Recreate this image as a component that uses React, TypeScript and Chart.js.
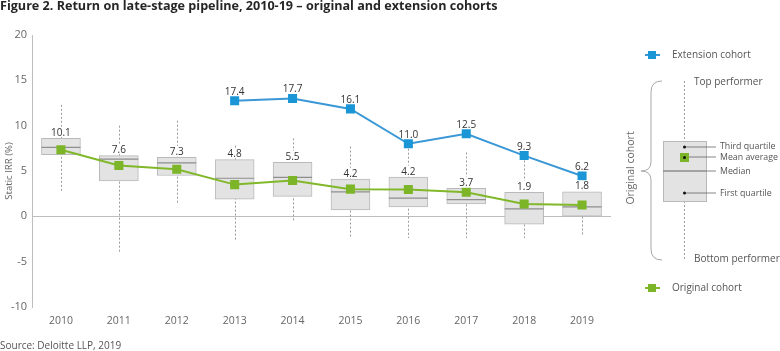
import React, { useEffect, useRef } from 'react';
import { Chart, registerables } from 'chart.js';

Chart.register(...registerables);

const years = ['2010', '2011', '2012', '2013', '2014', '2015', '2016', '2017', '2018', '2019'];
const whiskerHigh = [12.3, 10.0, 10.55, 7.8, 8.6, 7.7, 7.9, 7.05, 6.6, 4.4];
const thirdQuartile = [8.6, 6.7, 6.5, 6.25, 5.95, 4.1, 4.33, 3.1, 2.65, 2.7];
const medianValues = [7.6, 6.3, 5.9, 4.2, 4.3, 2.7, 2.0, 1.85, 0.82, 1.05];
const firstQuartile = [6.8, 3.9, 4.5, 1.9, 2.2, 0.7, 1.05, 1.37, -0.86, 0.02];
const whiskerLow = [2.7, -4.1, 1.3, -2.7, -0.6, -2.45, -2.4, -2.4, -2.4, -2.05];
const originalMean = [7.35, 5.6, 5.2, 3.5, 3.95, 3.0, 2.95, 2.65, 1.35, 1.25];
const extensionMean = [null, null, null, 12.75, 13.0, 11.85, 8.0, 9.1, 6.7, 4.45];
const originalLabels = ['10.1', '7.6', '7.3', '4.8', '5.5', '4.2', '4.2', '3.7', '1.9', '1.8'];
const extensionLabels = [null, null, null, '17.4', '17.7', '16.1', '11.0', '12.5', '9.3', '6.2'];
const yTicks = [-10, -5, 0, 5, 10, 15, 20];

const FONT = "'Open Sans', sans-serif";
const BLUE_LINE = '#3a98d6';
const BLUE_MARK = '#1a96d6';
const GREEN_LINE = '#80b82a';
const GREEN_MARK = '#7cb628';
const BOX_FILL = '#e3e3e3';
const BOX_BORDER = '#b9b9b9';

export default function App() {
  const ref = useRef<HTMLCanvasElement>(null);

  useEffect(() => {
    document.body.style.margin = '0';
    const canvas = ref.current;
    if (!canvas) return;

    const extras = {
      id: 'boxExtras',
      beforeDatasetsDraw(chart: any) {
        const { ctx, scales } = chart;
        const x = scales.x;
        const y = scales.y;
        ctx.save();
        ctx.strokeStyle = '#9c9c9c';
        ctx.lineWidth = 1;
        ctx.setLineDash([2, 2]);
        years.forEach((_, i) => {
          const px = Math.round(x.getPixelForValue(i)) + 0.5;
          ctx.beginPath();
          ctx.moveTo(px, y.getPixelForValue(whiskerHigh[i]));
          ctx.lineTo(px, y.getPixelForValue(whiskerLow[i]));
          ctx.stroke();
        });
        ctx.restore();
      },
      afterDatasetDraw(chart: any, args: any) {
        if (args.index !== 0) return;
        const { ctx, scales } = chart;
        const y = scales.y;
        const meta = chart.getDatasetMeta(0);
        ctx.save();
        ctx.strokeStyle = '#8e8e8e';
        ctx.lineWidth = 1.2;
        meta.data.forEach((bar: any, i: number) => {
          const p = bar.getProps(['x', 'width'], true);
          const py = y.getPixelForValue(medianValues[i]);
          ctx.beginPath();
          ctx.moveTo(p.x - p.width / 2, py);
          ctx.lineTo(p.x + p.width / 2, py);
          ctx.stroke();
        });
        ctx.restore();
      },
      afterDatasetsDraw(chart: any) {
        const { ctx, scales } = chart;
        const x = scales.x;
        const y = scales.y;
        ctx.save();
        ctx.font = `10px ${FONT}`;
        ctx.textAlign = 'center';
        ctx.textBaseline = 'alphabetic';
        years.forEach((_, i) => {
          const px = x.getPixelForValue(i);
          const by = y.getPixelForValue(thirdQuartile[i]) - 2.5;
          const t = originalLabels[i];
          const w = ctx.measureText(t).width;
          ctx.fillStyle = '#ffffff';
          ctx.fillRect(px - w / 2 - 1, by - 9, w + 2, 10);
          ctx.fillStyle = '#333333';
          ctx.fillText(t, px, by);
          const et = extensionLabels[i];
          const ev = extensionMean[i];
          if (et && ev !== null) {
            ctx.fillText(et, px, y.getPixelForValue(ev) - 6);
          }
        });
        ctx.restore();
      },
      afterDraw(chart: any) {
        const { ctx, chartArea } = chart;
        ctx.save();
        // title
        ctx.fillStyle = '#262626';
        ctx.font = `bold 12.6px ${FONT}`;
        ctx.textAlign = 'left';
        ctx.textBaseline = 'alphabetic';
        ctx.fillText('Figure 2. Return on late-stage pipeline, 2010-19 \u2013 original and extension cohorts', 0, 10);
        // source
        ctx.fillStyle = '#555555';
        ctx.font = `10px ${FONT}`;
        ctx.fillText('Source: Deloitte LLP, 2019', 0, 349);
        // y title
        ctx.save();
        ctx.translate(9, (chartArea.top + chartArea.bottom) / 2);
        ctx.rotate(-Math.PI / 2);
        ctx.textAlign = 'center';
        ctx.textBaseline = 'middle';
        ctx.fillStyle = '#666666';
        ctx.font = `9.6px ${FONT}`;
        ctx.fillText('Static IRR (%)', 0, 0);
        ctx.restore();

        const legendEntry = (yy: number, lineColor: string, markColor: string, label: string) => {
          ctx.strokeStyle = lineColor;
          ctx.lineWidth = 2;
          ctx.beginPath();
          ctx.moveTo(645, yy);
          ctx.lineTo(660, yy);
          ctx.stroke();
          ctx.fillStyle = markColor;
          ctx.fillRect(648, yy - 4, 8, 8);
          ctx.fillStyle = '#555555';
          ctx.font = `10px ${FONT}`;
          ctx.textAlign = 'left';
          ctx.textBaseline = 'middle';
          ctx.fillText(label, 672, yy);
        };
        legendEntry(55, BLUE_LINE, BLUE_MARK, 'Extension cohort');
        legendEntry(288, GREEN_LINE, GREEN_MARK, 'Original cohort');

        // brace
        ctx.strokeStyle = '#a8a8a8';
        ctx.lineWidth = 1;
        ctx.beginPath();
        ctx.moveTo(662, 81);
        ctx.quadraticCurveTo(651, 81, 651, 92);
        ctx.lineTo(651, 162);
        ctx.quadraticCurveTo(651, 171, 641, 171);
        ctx.quadraticCurveTo(651, 171, 651, 180);
        ctx.lineTo(651, 249);
        ctx.quadraticCurveTo(651, 260, 662, 260);
        ctx.stroke();

        // rotated label
        ctx.save();
        ctx.translate(631, 168);
        ctx.rotate(-Math.PI / 2);
        ctx.textAlign = 'center';
        ctx.textBaseline = 'middle';
        ctx.fillStyle = '#666666';
        ctx.font = `10.5px ${FONT}`;
        ctx.fillText('Original cohort', 0, 0);
        ctx.restore();

        // whisker
        ctx.strokeStyle = '#9c9c9c';
        ctx.setLineDash([2, 2]);
        ctx.beginPath();
        ctx.moveTo(684.5, 81);
        ctx.lineTo(684.5, 260);
        ctx.stroke();
        ctx.setLineDash([]);
        // box
        ctx.fillStyle = BOX_FILL;
        ctx.fillRect(663, 141, 43, 60);
        ctx.strokeStyle = BOX_BORDER;
        ctx.strokeRect(663.5, 141.5, 43, 60);
        // median
        ctx.strokeStyle = '#8e8e8e';
        ctx.lineWidth = 1.5;
        ctx.beginPath();
        ctx.moveTo(663, 171);
        ctx.lineTo(706, 171);
        ctx.stroke();
        // leaders
        ctx.strokeStyle = '#666666';
        ctx.lineWidth = 0.8;
        [147, 157, 193].forEach((yy) => {
          ctx.beginPath();
          ctx.moveTo(684, yy);
          ctx.lineTo(716, yy);
          ctx.stroke();
        });
        ctx.beginPath();
        ctx.moveTo(706, 171);
        ctx.lineTo(716, 171);
        ctx.stroke();
        // mean marker
        ctx.fillStyle = GREEN_MARK;
        ctx.fillRect(680, 153, 9, 9);
        ctx.fillStyle = '#111111';
        [147, 157.5, 193].forEach((yy) => {
          ctx.beginPath();
          ctx.arc(684.5, yy, 1.5, 0, Math.PI * 2);
          ctx.fill();
        });
        // legend labels
        ctx.fillStyle = '#555555';
        ctx.textAlign = 'left';
        ctx.textBaseline = 'middle';
        ctx.font = `8.8px ${FONT}`;
        ctx.fillText('Third quartile', 720, 146);
        ctx.fillText('Mean average', 720, 157);
        ctx.fillText('Median', 720, 171);
        ctx.fillText('First quartile', 720, 193);
        ctx.font = `10px ${FONT}`;
        ctx.fillText('Top performer', 694, 82);
        ctx.fillText('Bottom performer', 694, 259);
        ctx.restore();
      },
    };

    const chart = new Chart(canvas, {
      type: 'bar',
      data: {
        labels: years,
        datasets: [
          {
            type: 'bar',
            label: 'Box',
            data: firstQuartile.map((v, i) => [v, thirdQuartile[i]]) as any,
            backgroundColor: BOX_FILL,
            borderColor: BOX_BORDER,
            borderWidth: 1,
            borderSkipped: false,
            barThickness: 39,
            order: 2,
          } as any,
          {
            type: 'line',
            label: 'Original cohort',
            data: originalMean,
            borderColor: GREEN_LINE,
            borderWidth: 2,
            backgroundColor: GREEN_MARK,
            pointStyle: 'rect',
            pointRadius: 6.4,
            pointBorderWidth: 0,
            pointBackgroundColor: GREEN_MARK,
            tension: 0,
            order: 1,
          } as any,
          {
            type: 'line',
            label: 'Extension cohort',
            data: extensionMean,
            borderColor: BLUE_LINE,
            borderWidth: 2,
            backgroundColor: BLUE_MARK,
            pointStyle: 'rect',
            pointRadius: 6.4,
            pointBorderWidth: 0,
            pointBackgroundColor: BLUE_MARK,
            tension: 0,
            order: 0,
          } as any,
        ],
      },
      options: {
        animation: false,
        responsive: false,
        maintainAspectRatio: false,
        layout: { padding: { left: 0, top: 35, right: 169, bottom: 0 } },
        plugins: {
          legend: { display: false },
          tooltip: { enabled: false },
          title: { display: false },
        },
        scales: {
          x: {
            offset: true,
            grid: { display: false, drawTicks: false },
            border: { display: false },
            ticks: {
              color: '#666666',
              font: { family: FONT, size: 10.5 },
              padding: 8,
              maxRotation: 0,
              autoSkip: false,
            },
            afterFit: (scale: any) => {
              scale.height = 44;
            },
          },
          y: {
            min: -10,
            max: 20,
            afterBuildTicks: (scale: any) => {
              scale.ticks = yTicks.map((v) => ({ value: v }));
            },
            grid: {
              drawTicks: false,
              color: (c: any) => (c.tick && c.tick.value === 0 ? '#bdbdbd' : 'rgba(0,0,0,0)'),
              lineWidth: 1,
            },
            border: { display: true, color: '#bdbdbd', width: 1 },
            ticks: {
              color: '#666666',
              font: { family: FONT, size: 11 },
              padding: 5,
            },
            afterFit: (scale: any) => {
              scale.width = 32;
            },
          },
        },
      },
      plugins: [extras],
    });

    return () => chart.destroy();
  }, []);

  return (
    <div style={{ width: 780, height: 351 }}>
      <canvas ref={ref} width={780} height={351} style={{ display: 'block', width: 780, height: 351 }} />
    </div>
  );
}
